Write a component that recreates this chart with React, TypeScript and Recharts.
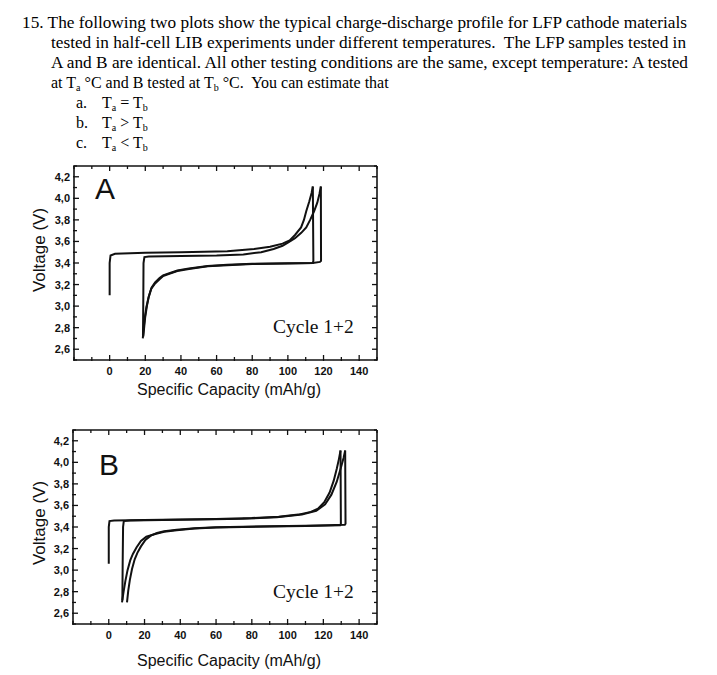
import React from "react";
import { LineChart, Line, XAxis, YAxis } from "recharts";

// capacity (mAh/g) and voltage (V) axes
const capTicks = [-20, -10, 0, 10, 20, 30, 40, 50, 60, 70, 80, 90, 100, 110, 120, 130, 140, 150];
const capLabelValues = [0, 20, 40, 60, 80, 100, 120, 140];
const capLabels = ["0", "20", "40", "60", "80", "100", "120", "140"];
const voltTicks = [2.5, 2.6, 2.7, 2.8, 2.9, 3.0, 3.1, 3.2, 3.3, 3.4, 3.5, 3.6, 3.7, 3.8, 3.9, 4.0, 4.1, 4.2, 4.3];
const voltLabelValues = [2.6, 2.8, 3.0, 3.2, 3.4, 3.6, 3.8, 4.0, 4.2];
const voltLabels = ["2,6", "2,8", "3,0", "3,2", "3,4", "3,6", "3,8", "4,0", "4,2"];

// panel A : [capacity, voltage]
const aCharge1 = [
  [0, 3.1], [0, 3.4], [0.5, 3.47], [3, 3.485], [20, 3.495], [40, 3.5], [66, 3.51], [81, 3.53],
  [90, 3.55], [97, 3.58], [101, 3.61], [104, 3.66], [107.4, 3.73], [109, 3.8], [110.3, 3.88],
  [112, 3.97], [113.3, 4.05], [114, 4.11],
];
const aDischarge1 = [
  [114, 4.11], [114.3, 3.42], [114, 3.4], [100, 3.395], [80, 3.39], [66, 3.38], [55, 3.37],
  [44.5, 3.345], [38, 3.325], [33.5, 3.3], [30, 3.28], [28, 3.25], [25.5, 3.21], [23.3, 3.16],
  [21.8, 3.08], [20.6, 2.99], [19.6, 2.88], [19, 2.78], [18.6, 2.7],
];
const aCharge2 = [
  [18.7, 2.73], [18.9, 3.1], [19, 3.4], [19.5, 3.455], [22, 3.46], [40, 3.465], [60, 3.47],
  [75, 3.48], [85, 3.5], [92, 3.53], [97, 3.56], [100, 3.59], [104, 3.63], [107.5, 3.68],
  [110.3, 3.73], [112.5, 3.8], [114.7, 3.88], [116.5, 3.96], [117.7, 4.04], [118.5, 4.11],
];
const aDischarge2 = [
  [118.5, 4.11], [118.6, 3.42], [118, 3.41], [114, 3.4], [100, 3.398], [80, 3.392], [66, 3.383],
  [55, 3.372], [44.5, 3.35], [38, 3.33], [33.5, 3.305], [30, 3.285], [28, 3.26], [25.5, 3.22],
  [23.5, 3.17], [22, 3.09], [20.9, 3.0], [19.9, 2.89], [19.3, 2.79], [18.9, 2.72],
];

// panel B : [capacity, voltage]
const bCharge1 = [
  [0, 3.06], [0, 3.4], [0.4, 3.455], [3, 3.46], [20, 3.465], [40, 3.47], [60, 3.475], [80, 3.483],
  [95, 3.495], [106, 3.515], [113, 3.54], [117, 3.57], [120.5, 3.63], [123.5, 3.72], [125.8, 3.83],
  [127.5, 3.94], [128.7, 4.03], [129.6, 4.11],
];
const bDischarge1 = [
  [129.6, 4.11], [129.8, 3.43], [129.4, 3.415], [110, 3.41], [90, 3.405], [75, 3.4], [60, 3.395],
  [48, 3.385], [38, 3.37], [31, 3.355], [26, 3.335], [21, 3.31], [18, 3.27], [15.5, 3.21],
  [13.5, 3.15], [12, 3.09], [10.5, 3.0], [9.3, 2.9], [8.3, 2.8], [7.4, 2.7],
];
const bCharge2 = [
  [7.6, 2.72], [7.8, 3.1], [8, 3.4], [8.4, 3.455], [12, 3.46], [30, 3.465], [50, 3.47], [75, 3.477],
  [94, 3.49], [108, 3.515], [116, 3.55], [121, 3.61], [124.5, 3.7], [127.5, 3.82], [129.8, 3.95],
  [131.3, 4.04], [132.2, 4.11],
];
const bDischarge2 = [
  [132.2, 4.11], [132.4, 3.43], [132, 3.42], [110, 3.412], [90, 3.407], [75, 3.402], [60, 3.397],
  [48, 3.388], [38, 3.375], [31, 3.36], [27, 3.345], [23.5, 3.32], [20.5, 3.28], [18, 3.22],
  [16, 3.16], [14.5, 3.1], [13, 3.01], [11.8, 2.91], [10.9, 2.81], [10.2, 2.7],
];

const toPts = (arr: number[][]) => arr.map(([c, v]) => ({ c, v }));

const INK = "#111";
const tickFont = {
  fontFamily: "'Liberation Sans', Arial, sans-serif",
  fontSize: 11,
  fontWeight: 700,
  fill: INK,
};

const capLabel = (v: number) => {
  const i = capLabelValues.findIndex((x) => Math.abs(x - v) < 1e-6);
  return i >= 0 ? capLabels[i] : null;
};
const voltLabel = (v: number) => {
  const i = voltLabelValues.findIndex((x) => Math.abs(x - v) < 1e-6);
  return i >= 0 ? voltLabels[i] : null;
};

// ticks point into the plot box, like the scanned figure
const BottomTick = (p: any) => {
  const lab = capLabel(p.payload.value);
  return (
    <g>
      <line x1={p.x} x2={p.x} y1={p.y + 1} y2={p.y - (lab ? 5 : 3)} stroke={INK} strokeWidth={1.3} />
      {lab && (
        <text x={p.x} y={p.y + 14.5} textAnchor="middle" {...tickFont}>
          {lab}
        </text>
      )}
    </g>
  );
};
const TopTick = (p: any) => {
  const lab = capLabel(p.payload.value);
  return <line x1={p.x} x2={p.x} y1={p.y} y2={p.y + (lab ? 5 : 3)} stroke={INK} strokeWidth={1.3} />;
};
const LeftTick = (p: any) => {
  const lab = voltLabel(p.payload.value);
  return (
    <g>
      <line x1={p.x - 1} x2={p.x + (lab ? 5 : 3)} y1={p.y} y2={p.y} stroke={INK} strokeWidth={1.3} />
      {lab && (
        <text x={p.x - 4} y={p.y + 4} textAnchor="end" {...tickFont}>
          {lab}
        </text>
      )}
    </g>
  );
};
const RightTick = (p: any) => {
  const lab = voltLabel(p.payload.value);
  return <line x1={p.x} x2={p.x - (lab ? 5 : 3)} y1={p.y} y2={p.y} stroke={INK} strokeWidth={1.3} />;
};

const frame = { stroke: INK, strokeWidth: 1.6 };

function Panel({ top, plotLeft, series }: { top: number; plotLeft: number; series: number[][][] }) {
  return (
    <div style={{ position: "absolute", left: 0, top }}>
      <LineChart width={400} height={270} margin={{ top: 0, right: 0, bottom: 0, left: 0 }}>
        <XAxis xAxisId="b" type="number" dataKey="c" domain={[-20, 150]} ticks={capTicks} interval={0}
          allowDataOverflow tickSize={0} tickMargin={0} tickLine={false} axisLine={frame} tick={BottomTick} height={50} />
        <XAxis xAxisId="t" orientation="top" type="number" dataKey="c" domain={[-20, 150]} ticks={capTicks}
          interval={0} allowDataOverflow tickSize={0} tickMargin={0} tickLine={false} axisLine={frame} tick={TopTick} height={26} />
        <YAxis yAxisId="l" type="number" domain={[2.5, 4.3]} ticks={voltTicks} interval={0} allowDataOverflow
          tickSize={0} tickMargin={0} tickLine={false} axisLine={frame} tick={LeftTick} width={plotLeft} />
        <YAxis yAxisId="r" orientation="right" type="number" domain={[2.5, 4.3]} ticks={voltTicks} interval={0}
          allowDataOverflow tickSize={0} tickMargin={0} tickLine={false} axisLine={frame} tick={RightTick} width={23} />
        {series.map((s, i) => (
          <Line key={i} xAxisId="b" yAxisId="l" data={toPts(s)} dataKey="v" type="linear" dot={false}
            activeDot={false} stroke={INK} strokeWidth={2} isAnimationActive={false} />
        ))}
      </LineChart>
    </div>
  );
}

const serif = "'Liberation Serif', 'Times New Roman', serif";
const sans = "'Liberation Sans', Arial, sans-serif";

const Sub = ({ ch }: { ch: string }) => (
  <tspan fontSize={10} dy={3}>{ch}</tspan>
);

export default function App() {
  return (
    <div style={{ position: "absolute", left: 0, top: 0, width: 717, height: 675, background: "#fff" }}>
      <Panel top={140} plotLeft={74} series={[aCharge1, aDischarge1, aCharge2, aDischarge2]} />
      <Panel top={404} plotLeft={73} series={[bCharge1, bDischarge1, bCharge2, bDischarge2]} />
      <svg width={717} height={675} style={{ position: "absolute", left: 0, top: 0, pointerEvents: "none" }}>
        <g fontFamily={serif} fontSize={16} fill="#000">
          <text x={22} y={28} textLength={665} lengthAdjust="spacingAndGlyphs" xmlSpace="preserve">
            15. The following two plots show the typical charge-discharge profile for LFP cathode materials
          </text>
          <text x={51} y={48} textLength={635} lengthAdjust="spacingAndGlyphs" xmlSpace="preserve">
            {"tested in half-cell LIB experiments under different temperatures.  The LFP samples tested in"}
          </text>
          <text x={51} y={68} textLength={637} lengthAdjust="spacingAndGlyphs" xmlSpace="preserve">
            A and B are identical. All other testing conditions are the same, except temperature: A tested
          </text>
          <text x={51} y={88} xmlSpace="preserve">
            at T<Sub ch="a" /><tspan dy={-3}>{" °C and B tested at T"}</tspan><Sub ch="b" />
            <tspan dy={-3}>{" °C.  You can estimate that"}</tspan>
          </text>
          <text x={76} y={108}>a.</text>
          <text x={102} y={108}>
            T<Sub ch="a" /><tspan dy={-3}> = T</tspan><Sub ch="b" />
          </text>
          <text x={76} y={128}>b.</text>
          <text x={102} y={128}>
            T<Sub ch="a" /><tspan dy={-3}> &gt; T</tspan><Sub ch="b" />
          </text>
          <text x={76} y={148}>c.</text>
          <text x={102} y={148}>
            T<Sub ch="a" /><tspan dy={-3}> &lt; T</tspan><Sub ch="b" />
          </text>
        </g>

        <g fontFamily={sans} fill="#111">
          <text x={95} y={199} fontSize={30}>A</text>
          <text x={99} y={475} fontSize={30}>B</text>
          <text x={229} y={395} fontSize={16} textAnchor="middle">Specific Capacity (mAh/g)</text>
          <text x={229} y={666} fontSize={16} textAnchor="middle">Specific Capacity (mAh/g)</text>
          <text x={45} y={250} fontSize={17} textAnchor="middle" transform="rotate(-90 45 250)">Voltage (V)</text>
          <text x={45} y={523} fontSize={17} textAnchor="middle" transform="rotate(-90 45 523)">Voltage (V)</text>
        </g>
        <g fontFamily={serif} fontSize={19.5} fill="#111">
          <text x={273} y={332.5}>Cycle 1+2</text>
          <text x={273} y={597.5}>Cycle 1+2</text>
        </g>
      </svg>
    </div>
  );
}
